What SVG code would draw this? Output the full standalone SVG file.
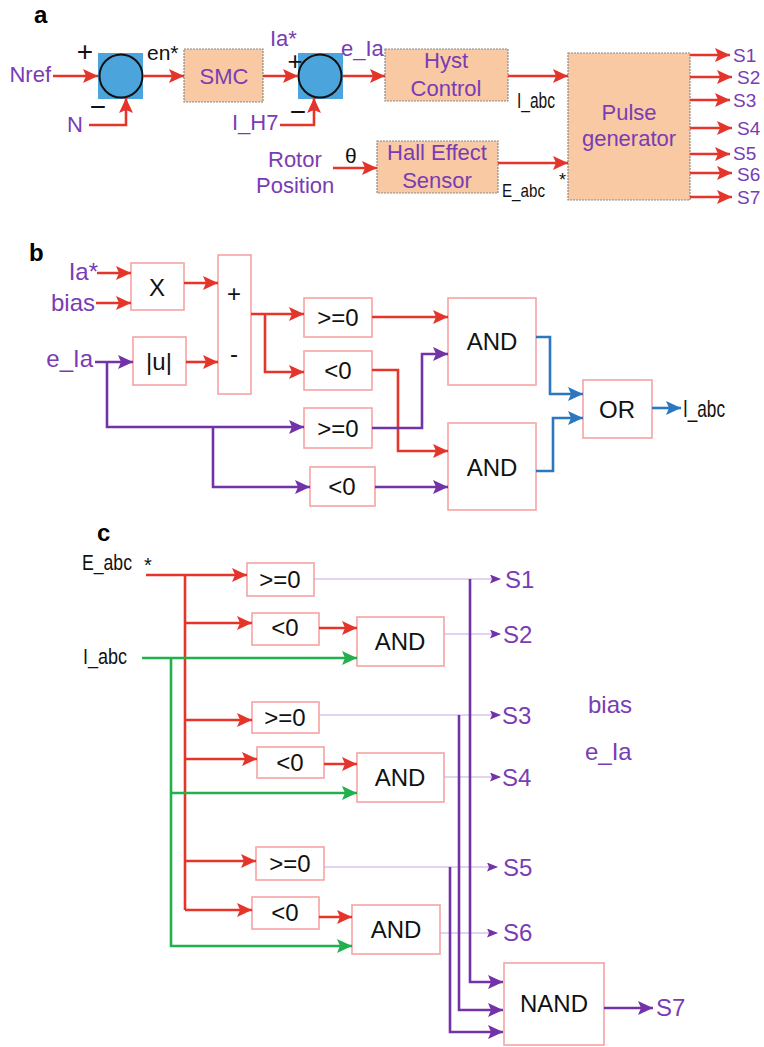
<svg xmlns="http://www.w3.org/2000/svg" width="764" height="1047" viewBox="0 0 764 1047">
<defs>
<marker id="aR" markerUnits="userSpaceOnUse" markerWidth="15" markerHeight="14" refX="15" refY="7" orient="auto"><path d="M0,0 L15,7 L0,14 L3,7 z" fill="#e5352b"/></marker>
<marker id="aP" markerUnits="userSpaceOnUse" markerWidth="15" markerHeight="14" refX="15" refY="7" orient="auto"><path d="M0,0 L15,7 L0,14 L3,7 z" fill="#7232a8"/></marker>
<marker id="aB" markerUnits="userSpaceOnUse" markerWidth="15" markerHeight="14" refX="15" refY="7" orient="auto"><path d="M0,0 L15,7 L0,14 L3,7 z" fill="#2c78c0"/></marker>
<marker id="aG" markerUnits="userSpaceOnUse" markerWidth="15" markerHeight="14" refX="15" refY="7" orient="auto"><path d="M0,0 L15,7 L0,14 L3,7 z" fill="#21b04b"/></marker>
<marker id="aPs" markerUnits="userSpaceOnUse" markerWidth="11" markerHeight="9" refX="11" refY="4.5" orient="auto"><path d="M0,0 L11,4.5 L0,9 L2,4.5 z" fill="#7232a8"/></marker>
</defs>
<style>
text{font-family:"Liberation Sans",Arial,sans-serif}
.p{fill:#7a3cb4}
.k{fill:#111}
.lbl{font-weight:bold;font-size:24px;fill:#000}
.a22{font-size:22px}
.s20{font-size:19px}
.b24{font-size:24px}
.mid{text-anchor:middle}
.end{text-anchor:end}
.or{fill:#f8c9a2;stroke:#8a8a8a;stroke-width:1.2;stroke-dasharray:2 1}
.bx{fill:#fff;stroke:#f5a3a3;stroke-width:1.6}
.sq{fill:#4ba4dc}
.ci{fill:#4ba4dc;stroke:#111;stroke-width:2}
.r{fill:none;stroke:#e5352b;stroke-width:2.6}
.pu{fill:none;stroke:#7232a8;stroke-width:2.6}
.bl{fill:none;stroke:#2c78c0;stroke-width:2.6}
.g{fill:none;stroke:#21b04b;stroke-width:2.6}
.tp{fill:none;stroke:#c8a8e8;stroke-width:1.2}
</style>

<!-- Panel labels -->
<text class="lbl" x="34" y="23">a</text>
<text class="lbl" x="29" y="261">b</text>
<text class="lbl" x="97" y="541">c</text>

<!-- ================= Panel a nodes ================= -->
<g id="sum1">
<rect class="sq" x="98" y="53" width="45" height="46"/>
<circle class="ci" cx="121" cy="76" r="21.5"/>
<text class="k" x="85" y="61" font-size="28" text-anchor="middle">+</text>
<text class="k" x="98" y="116" font-size="28" text-anchor="middle">−</text>
</g>
<g id="smc"><rect class="or" x="184" y="49" width="79" height="53"/><text class="p a22 mid" x="224" y="84">SMC</text></g>
<g id="sum2">
<rect class="sq" x="298" y="53" width="45" height="46"/>
<circle class="ci" cx="320" cy="76" r="21.5"/>
<text class="k" x="295" y="70" font-size="26" text-anchor="middle">+</text>
<text class="k" x="298" y="121" font-size="28" text-anchor="middle">−</text>
</g>
<g id="hyst"><rect class="or" x="385" y="49" width="123" height="52"/><text class="p a22 mid" x="446" y="68">Hyst</text><text class="p a22 mid" x="446" y="96">Control</text></g>
<g id="hall"><rect class="or" x="377" y="141" width="121" height="52"/><text class="p a22 mid" x="437" y="160">Hall Effect</text><text class="p a22 mid" x="437" y="188">Sensor</text></g>
<g id="pulse"><rect class="or" x="568" y="53" width="122" height="147"/><text class="p a22 mid" x="629" y="120">Pulse</text><text class="p a22 mid" x="629" y="146">generator</text></g>
<g id="a-labels">
<text class="p a22 end" x="51" y="82">Nref</text>
<text class="p a22" x="67" y="132">N</text>
<text class="k" x="147" y="60" font-size="21">en*</text>
<text class="p a22" x="270" y="46">Ia*</text>
<text class="p a22" x="232" y="130">I_H7</text>
<text class="p a22" x="341" y="56">e_Ia</text>
<text class="k" x="517" y="108" font-size="22" textLength="38" lengthAdjust="spacingAndGlyphs">I_abc</text>
<text class="p a22" x="268" y="167">Rotor</text>
<text class="p a22" x="256" y="193">Position</text>
<text class="k" x="345" y="163" font-size="21">θ</text>
<text class="k" x="502" y="197" font-size="19" textLength="43" lengthAdjust="spacingAndGlyphs">E_abc</text>
<text class="k" x="559" y="186" font-size="18">*</text>
<text class="p s20" x="733" y="62">S1</text>
<text class="p s20" x="737" y="84">S2</text>
<text class="p s20" x="733" y="107">S3</text>
<text class="p s20" x="737" y="135">S4</text>
<text class="p s20" x="733" y="160">S5</text>
<text class="p s20" x="737" y="181">S6</text>
<text class="p s20" x="737" y="204">S7</text>
</g>

<!-- ================= Panel b nodes ================= -->
<g id="mult"><rect class="bx" x="131" y="263" width="53" height="47"/><text class="k b24 mid" x="157" y="296">X</text></g>
<g id="abs"><rect class="bx" x="133" y="337" width="53" height="48"/><text class="k b24 mid" x="159" y="370">|u|</text></g>
<g id="sumb"><rect class="bx" x="218" y="255" width="33" height="139"/><text class="k b24 mid" x="234" y="302">+</text><text class="k b24 mid" x="234" y="362">-</text></g>
<g id="ge1"><rect class="bx" x="304" y="298" width="68" height="39"/><text class="k b24 mid" x="338" y="326">&gt;=0</text></g>
<g id="lt1"><rect class="bx" x="304" y="351" width="68" height="39"/><text class="k b24 mid" x="338" y="379">&lt;0</text></g>
<g id="ge2"><rect class="bx" x="304" y="408" width="68" height="40"/><text class="k b24 mid" x="338" y="437">&gt;=0</text></g>
<g id="lt2"><rect class="bx" x="310" y="467" width="65" height="39"/><text class="k b24 mid" x="342" y="495">&lt;0</text></g>
<g id="and1"><rect class="bx" x="448" y="298" width="88" height="87"/><text class="k b24 mid" x="492" y="350">AND</text></g>
<g id="and2"><rect class="bx" x="448" y="423" width="88" height="87"/><text class="k b24 mid" x="492" y="476">AND</text></g>
<g id="or"><rect class="bx" x="583" y="380" width="69" height="58"/><text class="k b24 mid" x="617" y="418">OR</text></g>
<g id="b-labels">
<text class="p b24 end" x="98" y="280">Ia*</text>
<text class="p b24 end" x="95" y="311">bias</text>
<text class="p b24 end" x="93" y="367">e_Ia</text>
<text class="k" x="683" y="417" font-size="24" textLength="42" lengthAdjust="spacingAndGlyphs">I_abc</text>
</g>

<!-- ================= Panel c nodes ================= -->
<g id="c-ge1"><rect class="bx" x="247" y="563" width="67" height="33"/><text class="k b24 mid" x="280" y="588">&gt;=0</text></g>
<g id="c-lt1"><rect class="bx" x="252" y="613" width="67" height="32"/><text class="k b24 mid" x="285" y="636">&lt;0</text></g>
<g id="c-and1"><rect class="bx" x="357" y="617" width="87" height="49"/><text class="k b24 mid" x="400" y="650">AND</text></g>
<g id="c-ge2"><rect class="bx" x="252" y="702" width="67" height="31"/><text class="k b24 mid" x="285" y="726">&gt;=0</text></g>
<g id="c-lt2"><rect class="bx" x="257" y="747" width="67" height="31"/><text class="k b24 mid" x="290" y="771">&lt;0</text></g>
<g id="c-and2"><rect class="bx" x="357" y="753" width="87" height="49"/><text class="k b24 mid" x="400" y="786">AND</text></g>
<g id="c-ge3"><rect class="bx" x="256" y="847" width="68" height="33"/><text class="k b24 mid" x="290" y="872">&gt;=0</text></g>
<g id="c-lt3"><rect class="bx" x="252" y="897" width="67" height="32"/><text class="k b24 mid" x="285" y="921">&lt;0</text></g>
<g id="c-and3"><rect class="bx" x="352" y="905" width="88" height="49"/><text class="k b24 mid" x="396" y="938">AND</text></g>
<g id="c-nand"><rect class="bx" x="504" y="963" width="100" height="82"/><text class="k b24 mid" x="554" y="1012">NAND</text></g>
<g id="c-labels">
<text class="k" x="82" y="570" font-size="22" textLength="50" lengthAdjust="spacingAndGlyphs">E_abc</text>
<text class="k" x="144" y="572" font-size="20">*</text>
<text class="k" x="83" y="664" font-size="22" textLength="44" lengthAdjust="spacingAndGlyphs">I_abc</text>
<text class="p b24" x="505" y="588">S1</text>
<text class="p b24" x="503" y="643">S2</text>
<text class="p b24" x="502" y="724">S3</text>
<text class="p b24" x="502" y="786">S4</text>
<text class="p b24" x="503" y="876">S5</text>
<text class="p b24" x="503" y="941">S6</text>
<text class="p b24" x="656" y="1016">S7</text>
<text class="p b24" x="588" y="713">bias</text>
<text class="p b24" x="585" y="760">e_Ia</text>
</g>

<!-- ================= Connectors ================= -->
<g id="connectors">
<!-- panel a -->
<path class="r" d="M53,76 H98" marker-end="url(#aR)"/>
<path class="r" d="M89,125 H126 V98" marker-end="url(#aR)"/>
<path class="r" d="M143,76 H184" marker-end="url(#aR)"/>
<path class="r" d="M263,76 H298" marker-end="url(#aR)"/>
<path class="r" d="M280,125 H314 V98" marker-end="url(#aR)"/>
<path class="r" d="M343,76 H385" marker-end="url(#aR)"/>
<path class="r" d="M508,76 H568" marker-end="url(#aR)"/>
<path class="r" d="M333,168 H377" marker-end="url(#aR)"/>
<path class="r" d="M498,163 H568" marker-end="url(#aR)"/>
<path class="r" d="M690,55 H730" marker-end="url(#aR)"/>
<path class="r" d="M690,77 H732" marker-end="url(#aR)"/>
<path class="r" d="M690,100 H730" marker-end="url(#aR)"/>
<path class="r" d="M690,128 H732" marker-end="url(#aR)"/>
<path class="r" d="M690,154 H730" marker-end="url(#aR)"/>
<path class="r" d="M690,173 H732" marker-end="url(#aR)"/>
<path class="r" d="M690,197 H732" marker-end="url(#aR)"/>
<!-- panel b -->
<path class="r" d="M97,273 H131" marker-end="url(#aR)"/>
<path class="r" d="M96,303 H131" marker-end="url(#aR)"/>
<path class="r" d="M184,283 H218" marker-end="url(#aR)"/>
<path class="r" d="M186,362 H218" marker-end="url(#aR)"/>
<path class="r" d="M251,314 H304" marker-end="url(#aR)"/>
<path class="r" d="M265,314 V372 H304" marker-end="url(#aR)"/>
<path class="r" d="M372,317 H448" marker-end="url(#aR)"/>
<path class="r" d="M372,370 H398 V451 H448" marker-end="url(#aR)"/>
<path class="pu" d="M95,362 H133" marker-end="url(#aP)"/>
<path class="pu" d="M107,362 V427 H304" marker-end="url(#aP)"/>
<path class="pu" d="M213,427 V487 H310" marker-end="url(#aP)"/>
<path class="pu" d="M372,428 H422 V354 H448" marker-end="url(#aP)"/>
<path class="pu" d="M375,487 H448" marker-end="url(#aP)"/>
<path class="bl" d="M536,337 H550 V394 H583" marker-end="url(#aB)"/>
<path class="bl" d="M536,471 H553 V418 H583" marker-end="url(#aB)"/>
<path class="bl" d="M652,408 H681" marker-end="url(#aB)"/>
<!-- panel c -->
<path class="r" d="M146,575 H247" marker-end="url(#aR)"/>
<path class="r" d="M185,575 V910"/>
<path class="r" d="M185,623 H252" marker-end="url(#aR)"/>
<path class="r" d="M185,720 H252" marker-end="url(#aR)"/>
<path class="r" d="M185,759 H257" marker-end="url(#aR)"/>
<path class="r" d="M185,861 H256" marker-end="url(#aR)"/>
<path class="r" d="M185,910 H252" marker-end="url(#aR)"/>
<path class="r" d="M319,628 H357" marker-end="url(#aR)"/>
<path class="r" d="M324,764 H357" marker-end="url(#aR)"/>
<path class="r" d="M319,917 H352" marker-end="url(#aR)"/>
<path class="g" d="M142,658 H357" marker-end="url(#aG)"/>
<path class="g" d="M171,658 V946 H352" marker-end="url(#aG)"/>
<path class="g" d="M171,793 H357" marker-end="url(#aG)"/>
<path class="tp" d="M314,579 H500"/>
<path class="tp" d="M444,634 H500"/>
<path class="tp" d="M319,715 H500"/>
<path class="tp" d="M444,777 H500"/>
<path class="tp" d="M324,867 H497"/>
<path class="tp" d="M440,933 H497"/>
<path d="M490,579 H501" stroke="none" fill="none" marker-end="url(#aPs)"/>
<path d="M490,634 H501" stroke="none" fill="none" marker-end="url(#aPs)"/>
<path d="M490,715 H501" stroke="none" fill="none" marker-end="url(#aPs)"/>
<path d="M490,777 H501" stroke="none" fill="none" marker-end="url(#aPs)"/>
<path d="M486,867 H498" stroke="none" fill="none" marker-end="url(#aPs)"/>
<path d="M486,933 H498" stroke="none" fill="none" marker-end="url(#aPs)"/>
<path class="pu" d="M470,579 V982 H503" marker-end="url(#aP)"/>
<path class="pu" d="M459,715 V1010 H503" marker-end="url(#aP)"/>
<path class="pu" d="M450,867 V1032 H503" marker-end="url(#aP)"/>
<path class="pu" d="M604,1008 H653" marker-end="url(#aP)"/>
</g>
</svg>
